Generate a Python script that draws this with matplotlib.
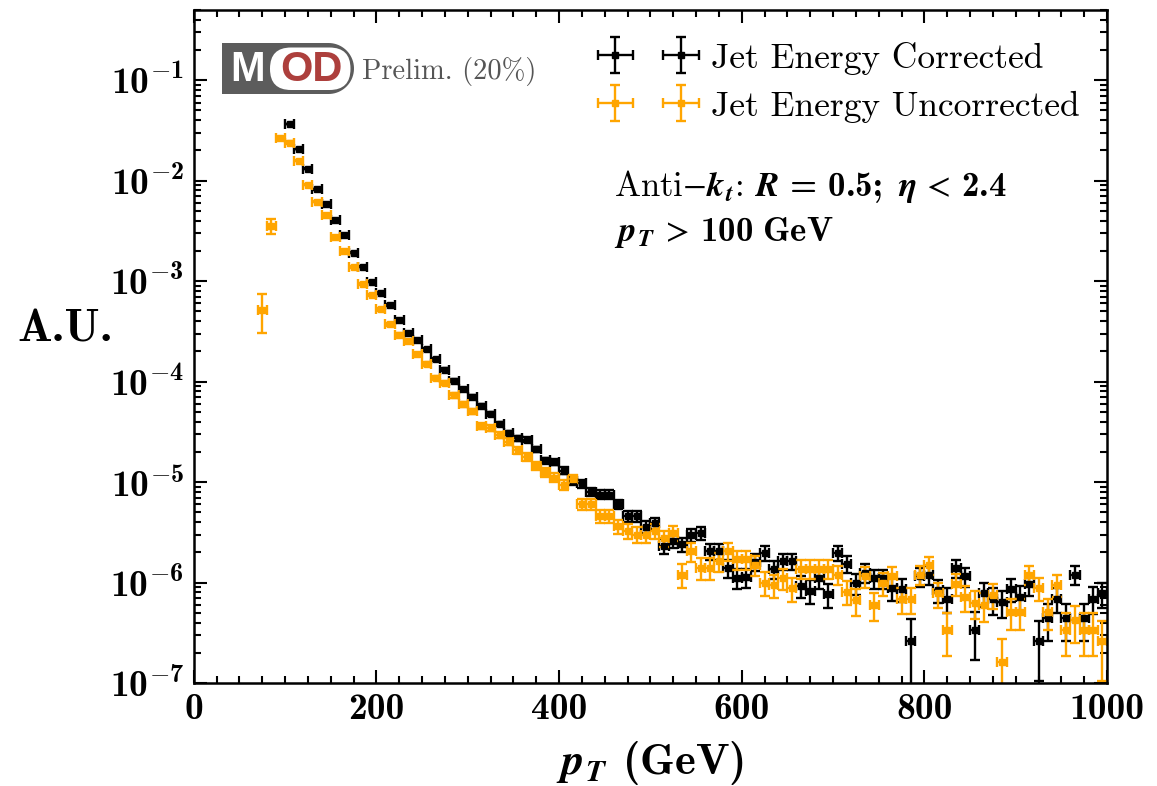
import numpy as np
import matplotlib
matplotlib.use("Agg")
import matplotlib.pyplot as plt
from matplotlib.ticker import FixedLocator, LogLocator, FuncFormatter, NullFormatter
from matplotlib.patches import FancyBboxPatch, PathPatch
from matplotlib.path import Path

# ---- data: normalised jet pT spectra, 10 GeV bins -------------------------
bin_centers = np.arange(75, 1000, 10)  # 75 ... 995 GeV
bin_halfwidth = 5.0

nan = np.nan
corrected = [
    nan, nan, nan, 3.69e-2, 2.08e-2, 1.32e-2, 8.22e-3, 5.82e-3, 4.08e-3, 2.90e-3,
    1.91e-3, 1.39e-3, 9.9e-4, 7.62e-4, 5.83e-4, 4.06e-4, 3.08e-4, 2.57e-4, 2.09e-4, 1.67e-4,
    1.31e-4, 1.02e-4, 8.37e-5, 7.08e-5, 5.71e-5, 4.75e-5, 3.78e-5, 3.09e-5, 2.73e-5, 2.65e-5,
    2.12e-5, 1.64e-5, 1.59e-5, 1.30e-5, 1.03e-5, 9.7e-6, 8.0e-6, 7.5e-6, 7.5e-6, 6.0e-6,
    4.6e-6, 4.6e-6, 3.6e-6, 3.9e-6, 2.3e-6, 2.6e-6, 2.4e-6, 3.0e-6, 3.1e-6, 2.05e-6,
    2.05e-6, 1.4e-6, 1.11e-6, 1.13e-6, 1.6e-6, 1.97e-6, 1.37e-6, 1.63e-6, 1.63e-6, 9.3e-7,
    8.3e-7, 1.1e-6, 7.7e-7, 1.97e-6, 1.53e-6, 9.9e-7, 1.25e-6, 1.1e-6, 1.1e-6, 8.8e-7,
    8.6e-7, 2.6e-7, 1.15e-6, 1.2e-6, 8.4e-7, 6.9e-7, 1.4e-6, 1.15e-6, 3.4e-7, 7.8e-7,
    6.8e-7, 6.4e-7, 8.6e-7, 7.2e-7, 9.7e-7, 2.6e-7, 4.4e-7, 6.9e-7, 4.4e-7, 1.2e-6,
    4.4e-7, 6.9e-7, 7.8e-7,
]
corrected_relerr = [
    nan, nan, nan, 0.004, 0.005, 0.006, 0.007, 0.008, 0.009, 0.01,
    0.012, 0.013, 0.015, 0.017, 0.02, 0.021, 0.023, 0.025, 0.027, 0.03,
    0.032, 0.035, 0.038, 0.04, 0.043, 0.047, 0.05, 0.055, 0.06, 0.06,
    0.065, 0.07, 0.075, 0.08, 0.085, 0.09, 0.1, 0.1, 0.1, 0.11,
    0.12, 0.12, 0.14, 0.13, 0.17, 0.16, 0.16, 0.15, 0.15, 0.18,
    0.18, 0.2, 0.22, 0.22, 0.19, 0.17, 0.2, 0.18, 0.18, 0.25,
    0.27, 0.22, 0.27, 0.17, 0.19, 0.24, 0.21, 0.22, 0.22, 0.25,
    0.25, 0.65, 0.22, 0.21, 0.25, 0.28, 0.2, 0.22, 0.5, 0.27,
    0.3, 0.3, 0.26, 0.28, 0.24, 0.6, 0.4, 0.28, 0.4, 0.22,
    0.4, 0.3, 0.28,
]
uncorrected = [
    5.2e-4, 3.56e-3, 2.63e-2, 2.39e-2, 1.58e-2, 9.14e-3, 6.14e-3, 4.58e-3, 2.77e-3, 1.99e-3,
    1.39e-3, 9.31e-4, 7.35e-4, 5.24e-4, 3.71e-4, 2.94e-4, 2.53e-4, 1.87e-4, 1.50e-4, 1.09e-4,
    9.62e-5, 7.29e-5, 5.98e-5, 5.09e-5, 3.63e-5, 3.49e-5, 2.97e-5, 2.53e-5, 2.07e-5, 1.79e-5,
    1.44e-5, 1.26e-5, 1.11e-5, 9.4e-6, 1.08e-5, 6.0e-6, 6.0e-6, 4.6e-6, 4.6e-6, 3.64e-6,
    3.24e-6, 3.0e-6, 3.0e-6, 3.24e-6, 2.78e-6, 3.1e-6, 1.2e-6, 2.05e-6, 1.4e-6, 1.4e-6,
    1.63e-6, 2.05e-6, 1.7e-6, 1.7e-6, 1.5e-6, 1.0e-6, 9.5e-7, 1.1e-6, 8.8e-7, 1.37e-6,
    1.37e-6, 1.37e-6, 1.37e-6, 1.2e-6, 8.1e-7, 6.7e-7, 1.15e-6, 6.0e-7, 9.9e-7, 1.15e-6,
    6.9e-7, 6.9e-7, 1.2e-6, 1.5e-6, 7.8e-7, 3.4e-7, 9.7e-7, 7.2e-7, 6.3e-7, 6.0e-7,
    7.6e-7, 1.6e-7, 5.1e-7, 5.1e-7, 1.2e-6, 8.8e-7, 5.1e-7, 9.5e-7, 3.4e-7, 4.2e-7,
    3.4e-7, 3.4e-7, 2.6e-7,
]
uncorrected_relerr = [
    0.42, 0.17, 0.03, 0.03, 0.01, 0.01, 0.012, 0.013, 0.015, 0.017,
    0.02, 0.022, 0.025, 0.028, 0.03, 0.033, 0.035, 0.037, 0.04, 0.045,
    0.048, 0.05, 0.055, 0.06, 0.065, 0.07, 0.07, 0.075, 0.08, 0.085,
    0.09, 0.1, 0.1, 0.11, 0.1, 0.13, 0.13, 0.14, 0.14, 0.16,
    0.17, 0.18, 0.18, 0.17, 0.18, 0.17, 0.27, 0.21, 0.24, 0.24,
    0.22, 0.2, 0.21, 0.21, 0.22, 0.26, 0.26, 0.24, 0.27, 0.21,
    0.21, 0.21, 0.21, 0.22, 0.27, 0.3, 0.23, 0.31, 0.25, 0.23,
    0.29, 0.29, 0.22, 0.2, 0.28, 0.45, 0.25, 0.29, 0.31, 0.32,
    0.28, 0.7, 0.34, 0.34, 0.22, 0.26, 0.34, 0.25, 0.45, 0.4,
    0.45, 0.45, 0.6,
]

series_labels = ["Jet Energy Corrected", "Jet Energy Uncorrected"]
series_colors = ["black", "#FFA500"]
x_ticks = [0, 200, 400, 600, 800, 1000]
y_decades = [-7, -6, -5, -4, -3, -2, -1]

# ---- style: Computer Modern look ------------------------------------------
plt.rcParams["mathtext.fontset"] = "custom"
plt.rcParams["mathtext.rm"] = "STIXGeneral"
plt.rcParams["mathtext.it"] = "cmmi10"
plt.rcParams["mathtext.bf"] = "cmb10"
plt.rcParams["mathtext.bfit"] = "STIXGeneral:italic:bold"
plt.rcParams["mathtext.fallback"] = "cm"
plt.rcParams["axes.formatter.use_mathtext"] = True
plt.rcParams["axes.unicode_minus"] = False

W, H = 1157, 786
fig = plt.figure(figsize=(W / 100, H / 100), dpi=100)
ax = fig.add_axes([193.7 / W, 1 - 683 / H, (1107 - 193.7) / W, (683 - 10) / H])

errkw = dict(fmt="s", markersize=4, elinewidth=1.7, capsize=3.5, capthick=1.7)

handles = []
for vals, rel, col, lab in zip([corrected, uncorrected],
                               [corrected_relerr, uncorrected_relerr],
                               series_colors, series_labels):
    v = np.asarray(vals, dtype=float)
    e = v * np.asarray(rel, dtype=float)
    m = np.isfinite(v)
    h = ax.errorbar(bin_centers[m], v[m], yerr=e[m], xerr=bin_halfwidth,
                    color=col, ecolor=col, mec=col, mfc=col, label=lab, **errkw)
    handles.append(h)

ax.set_yscale("log")
ax.set_xlim(0, 1000)
ax.set_ylim(1e-7, 0.5)

ax.xaxis.set_major_locator(FixedLocator(x_ticks))
ax.xaxis.set_minor_locator(FixedLocator(np.arange(0, 1001, 25)))
ax.yaxis.set_major_locator(FixedLocator([10.0 ** d for d in y_decades]))
ax.yaxis.set_minor_locator(LogLocator(base=10, subs=np.arange(2, 10)))
ax.yaxis.set_minor_formatter(NullFormatter())
ax.yaxis.set_major_formatter(FuncFormatter(
    lambda y, pos: r"$\mathbf{10^{%d}}$" % int(round(np.log10(y)))))
ax.xaxis.set_major_formatter(FuncFormatter(lambda x, pos: "%d" % x))

ax.tick_params(which="both", direction="in", top=True, right=True, width=1.5)
ax.tick_params(which="major", length=9.5, labelsize=27, pad=7)
ax.tick_params(which="minor", length=5)
for lbl in ax.get_xticklabels():
    lbl.set_fontfamily("cmb10")
for sp in ax.spines.values():
    sp.set_linewidth(1.8)

ax.set_xlabel(r"$\boldsymbol{p}_{\boldsymbol{T}}$ (GeV)", fontsize=32,
              fontfamily="cmb10", va="center")
ax.xaxis.set_label_coords(0.5, -0.119)
ax.set_ylabel("A.U.", fontsize=33, rotation=0, fontfamily="cmb10",
              ha="center", va="center")
ax.yaxis.set_label_coords(-0.141, 0.5245)

leg = ax.legend(handles=handles, labels=series_labels, loc="upper left",
                bbox_to_anchor=(0.423, 0.99), frameon=False, numpoints=2,
                handlelength=2.45, handletextpad=0.55, labelspacing=0.45,
                borderaxespad=0.3, prop={"family": "cmr10", "size": 25.5})

ax.text(0.46, 0.737,
        r"Anti$-\boldsymbol{k}_{\boldsymbol{t}}$: "
        r"$\boldsymbol{R}\,\mathbf{=\,0.5;\ }\boldsymbol{\eta}\,<\,\mathbf{2.4}$",
        transform=ax.transAxes, fontsize=25, fontfamily="cmr10", va="center", ha="left")
ax.text(0.46, 0.670, r"$\boldsymbol{p}_{\boldsymbol{T}}\,>\,\mathbf{100\ GeV}$",
        transform=ax.transAxes, fontsize=25, fontfamily="cmr10", va="center", ha="left")

# ---- MOD badge in pixel coordinates ----------------------------------------
ov = fig.add_axes([0, 0, 1, 1], facecolor="none")
ov.set_xlim(0, W)
ov.set_ylim(H, 0)
ov.axis("off")

x0, x1, y0, y1 = 222.0, 354.0, 43.0, 94.0
r = (y1 - y0) / 2
verts = [(x0, y0), (x1 - r, y0)]
th = np.linspace(-np.pi / 2, np.pi / 2, 40)
verts += [(x1 - r + r * np.cos(t), y0 + r + r * np.sin(t)) for t in th]
verts += [(x0, y1), (x0, y0)]
codes = [Path.MOVETO] + [Path.LINETO] * (len(verts) - 2) + [Path.CLOSEPOLY]
ov.add_patch(PathPatch(Path(verts, codes), facecolor="#5c5c5c", edgecolor="none"))
ov.add_patch(FancyBboxPatch((270, 47.5), 80.5, 42.5,
                            boxstyle="round,pad=0,rounding_size=21",
                            facecolor="white", edgecolor="none"))
ov.text(248, 70, "M", color="white", fontsize=30, fontfamily="Liberation Sans",
        fontweight="bold", ha="center", va="center")
ov.text(311, 70, "OD", color="#ad3f3c", fontsize=30, fontfamily="Liberation Sans",
        fontweight="bold", ha="center", va="center")
ov.text(362, 71, "Prelim. (20%)", color="#555555", fontsize=20.5, fontfamily="cmr10",
        ha="left", va="center")

fig.savefig("out.png", dpi=100)
